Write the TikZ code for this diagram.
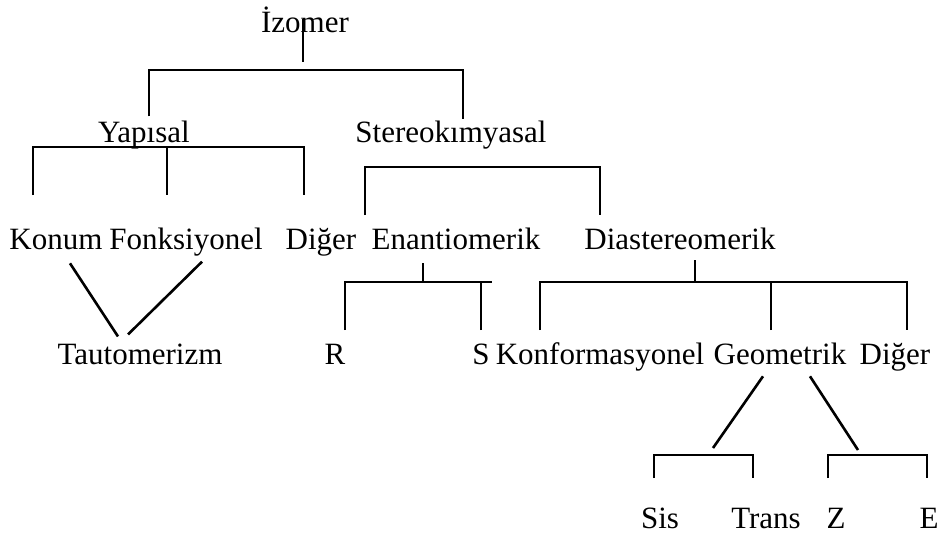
\documentclass[tikz,border=0pt]{standalone}
\usepackage{fontspec}
\setmainfont{Liberation Serif}
\usepackage{tikz}
\usetikzlibrary{calc}

\begin{document}
\begin{tikzpicture}[x=0.5pt,y=-0.5pt,line width=1pt]
  \tikzstyle{termNode}=[inner sep=0pt,anchor=base,font=\fontsize{15.5}{18}\selectfont]
  \tikzstyle{slantLine}=[line width=1.3pt]
  \useasboundingbox (0,0) rectangle (939,537);
  % terms, row by row
  \node[termNode] (izomer) at (305,32) {İzomer};
  \node[termNode] (yapisal) at (144,142) {Yapısal};
  \node[termNode] (stereo) at (451,142) {Stereokımyasal};
  \node[termNode] (konum) at (56,249) {Konum};
  \node[termNode] (fonks) at (186,249) {Fonksiyonel};
  \node[termNode] (diger) at (321,249) {Diğer};
  \node[termNode] (enan) at (456,249) {Enantiomerik};
  \node[termNode] (dias) at (680,249) {Diastereomerik};
  \node[termNode] (tauto) at (140,364) {Tautomerizm};
  \node[termNode] (rForm) at (335,364) {R};
  \node[termNode] (sForm) at (481,364) {S};
  \node[termNode] (konf) at (600,364) {Konformasyonel};
  \node[termNode] (geo) at (780,364) {Geometrik};
  \node[termNode] (digerB) at (895,364) {Diğer};
  \node[termNode] (sis) at (660,528) {Sis};
  \node[termNode] (trans) at (766,528) {Trans};
  \node[termNode] (zForm) at (836,528) {Z};
  \node[termNode] (eForm) at (929,528) {E};
  % junction points
  \coordinate (izStub) at (303,62);
  \coordinate (izBar) at (303,70);
  \coordinate (yapBar) at (167,147);
  \coordinate (yapL) at (33,195);
  \coordinate (yapM) at (167,195);
  \coordinate (yapR) at (304,195);
  \coordinate (stBar) at (600,167);
  \coordinate (stL) at (365,215);
  \coordinate (stR) at (600,215);
  \coordinate (enBar) at (423,282);
  \coordinate (enEnd) at (492,282);
  \coordinate (rTop) at (345,330);
  \coordinate (sTop) at (481,330);
  \coordinate (diBar) at (695,282);
  \coordinate (konfTop) at (540,330);
  \coordinate (geoTop) at (771,330);
  \coordinate (digTop) at (907,330);
  \coordinate (sisTip) at (713,448);
  \coordinate (zTip) at (858,450);
  \coordinate (sisL) at (654,478);
  \coordinate (sisBar) at (753,455);
  \coordinate (transR) at (753,478);
  \coordinate (zL) at (828,478);
  \coordinate (zBar) at (927,455);
  \coordinate (eR) at (927,478);
  % İzomer
  \draw (izomer.center -| izStub) -- (izStub);
  \draw ($(yapisal.north)+(5,-3)$) |- (izBar) -| ($(stereo.north)+(12,0)$);
  % Yapısal
  \draw (yapL) |- (yapBar) -| (yapR);
  \draw (yapBar) -- (yapM);
  % Stereokımyasal
  \draw (stL) |- (stBar) -- (stR);
  % Tautomerizm
  \draw[slantLine] ($(konum.south)+(14,13)$) -- ($(tauto.north)+(-22,-6)$);
  \draw[slantLine] ($(fonks.south)+(16,5)$) -- ($(tauto.north)+(-12,-8)$);
  % Enantiomerik
  \draw ($(enan.south -| enBar)+(0,13)$) -- (enBar);
  \draw (rTop) |- (enEnd);
  \draw (sTop) -- (sTop |- enBar);
  % Diastereomerik
  \draw ($(dias.south -| diBar)+(0,10)$) -- (diBar);
  \draw (konfTop) |- (diBar) -| (digTop);
  \draw (geoTop) -- (geoTop |- diBar);
  % Geometrik
  \draw[slantLine] ($(geo.south)+(-17,11)$) -- (sisTip);
  \draw[slantLine] ($(geo.south)+(30,11)$) -- (zTip);
  \draw (sisL) |- (sisBar) -- (transR);
  \draw (zL) |- (zBar) -- (eR);
\end{tikzpicture}
\end{document}
